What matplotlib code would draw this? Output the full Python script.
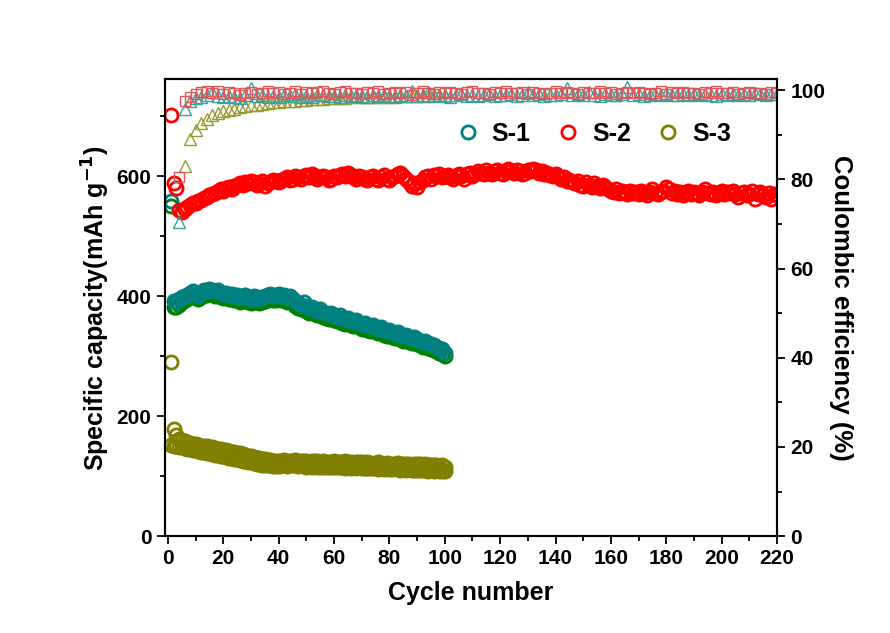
import numpy as np
import matplotlib
matplotlib.use('Agg')
import matplotlib.pyplot as plt
from matplotlib.lines import Line2D
from matplotlib.ticker import MultipleLocator

plt.rcParams['font.family'] = ['Liberation Sans', 'DejaVu Sans']
plt.rcParams['font.weight'] = 'bold'

# Specific capacity (mAh/g), one value per cycle
s1_cap = [558, 392, 390, 395, 398, 400, 402, 405, 408, 404,
          400, 406, 410, 408, 412, 410, 408, 410, 406, 404,
          405, 402, 404, 400, 402, 398, 400, 402, 398, 396,
          400, 398, 396, 398, 400, 402, 404, 400, 402, 404,
          400, 402, 398, 400, 396, 392, 388, 386, 390, 384,
          380, 382, 378, 376, 378, 374, 372, 370, 372, 368,
          366, 368, 364, 362, 364, 360, 358, 360, 356, 354,
          356, 352, 350, 352, 348, 346, 348, 344, 342, 344,
          340, 338, 340, 336, 334, 336, 332, 330, 332, 328,
          326, 324, 326, 322, 320, 318, 316, 314, 312, 306]
s1_chg = [550, 382, 382, 386, 390, 393, 395, 398, 400, 398,
          395, 399, 402, 402, 404, 403, 401, 402, 399, 397,
          398, 395, 396, 393, 394, 391, 392, 394, 391, 389,
          392, 390, 389, 391, 392, 394, 396, 393, 394, 396,
          393, 394, 390, 392, 388, 384, 380, 378, 381, 376,
          372, 374, 370, 368, 370, 366, 364, 362, 364, 360,
          358, 360, 356, 354, 356, 352, 350, 352, 348, 346,
          348, 344, 342, 344, 340, 338, 340, 336, 334, 336,
          332, 330, 332, 328, 326, 328, 324, 322, 324, 320,
          318, 316, 318, 314, 312, 310, 308, 306, 304, 300]
s2_cap = [703, 588, 580, 543, 540, 545, 548, 552, 555, 556,
          558, 560, 563, 565, 568, 570, 572, 575, 578, 576,
          580, 582, 578, 584, 586, 588, 585, 590, 588, 592,
          590, 586, 588, 592, 584, 588, 590, 594, 592, 590,
          594, 596, 598, 594, 596, 600, 598, 596, 600, 602,
          598, 604, 600, 596, 598, 600, 598, 594, 596, 600,
          598, 602, 604, 600, 606, 602, 598, 596, 600, 598,
          596, 594, 598, 600, 596, 594, 598, 602, 596, 594,
          598, 600, 604, 606, 600, 596, 590, 584, 588, 582,
          590, 594, 598, 600, 596, 602, 600, 604, 598, 600,
          602, 598, 596, 600, 604, 600, 596, 604, 606, 600,
          604, 608, 606, 604, 610, 606, 604, 608, 610, 606,
          604, 608, 612, 608, 606, 610, 608, 604, 606, 610,
          608, 612, 610, 606, 608, 604, 606, 602, 600, 604,
          600, 596, 598, 592, 594, 590, 588, 592, 586, 584,
          590, 586, 582, 588, 584, 580, 586, 582, 578, 576,
          574, 578, 572, 576, 574, 570, 576, 572, 574, 570,
          576, 572, 568, 574, 578, 572, 570, 574, 576, 582,
          578, 572, 576, 570, 574, 568, 572, 576, 570, 574,
          572, 568, 574, 578, 572, 570, 574, 568, 572, 576,
          570, 574, 572, 576, 570, 566, 572, 574, 568, 570,
          576, 562, 570, 574, 568, 566, 572, 562, 570, 568]
s3_cap = [290, 178, 168, 162, 160, 158, 156, 155, 154, 153,
          152, 151, 150, 150, 149, 148, 147, 146, 145, 144,
          143, 142, 141, 140, 139, 138, 137, 136, 134, 133,
          132, 131, 130, 129, 128, 127, 127, 126, 126, 125,
          126, 127, 126, 125, 126, 127, 126, 125, 126, 125,
          124, 125, 126, 125, 124, 125, 124, 123, 124, 125,
          124, 123, 124, 125, 124, 123, 122, 123, 124, 123,
          122, 123, 122, 121, 122, 123, 122, 121, 122, 121,
          120, 121, 122, 121, 120, 121, 120, 119, 120, 121,
          120, 119, 120, 119, 118, 119, 118, 117, 118, 115]
s3_chg = [152, 150, 150, 149, 148, 147, 146, 145, 144, 143,
          142, 141, 140, 139, 138, 137, 136, 135, 134, 133,
          132, 131, 130, 129, 128, 127, 126, 125, 124, 123,
          122, 121, 120, 119, 119, 118, 118, 117, 117, 117,
          118, 118, 117, 118, 119, 118, 117, 118, 117, 116,
          117, 116, 117, 116, 115, 116, 115, 116, 115, 116,
          115, 116, 115, 114, 115, 114, 115, 114, 115, 114,
          113, 114, 113, 114, 113, 112, 113, 112, 113, 112,
          112, 113, 112, 111, 112, 111, 112, 111, 110, 111,
          110, 111, 110, 109, 110, 109, 110, 109, 108, 108]

# Coulombic efficiency (%), every second cycle
s1_ce = [70.4, 95.8, 97.6, 98.2, 98.5, 98.9, 99.6, 98.7, 98.4, 98.8,
         98.6, 98.3, 98.9, 100.6, 98.7, 99.0, 98.6, 98.8, 98.4, 98.9,
         98.7, 99.1, 98.6, 98.8, 98.5, 98.9, 99.0, 98.7, 98.8, 98.6,
         98.9, 98.7, 99.0, 98.8, 98.6, 98.9, 98.7, 99.0, 98.8, 98.5,
         98.9, 98.7, 99.8, 98.8, 98.9, 99.6, 98.7, 99.0, 98.8, 98.6,
         98.9, 99.1, 98.8, 99.0, 98.7, 98.9, 99.2, 98.8, 99.0, 98.9,
         99.1, 98.8, 99.0, 99.7, 98.9, 99.1, 98.8, 99.0, 98.9, 99.2,
         100.5, 99.0, 99.1, 98.9, 99.6, 99.0, 98.8, 99.1, 98.9, 99.0,
         99.2, 100.8, 99.0, 99.1, 98.8, 99.0, 99.2, 98.9, 99.1, 99.0,
         98.9, 99.1, 99.0, 99.2, 98.9, 99.1, 99.0, 98.8, 99.1, 99.0,
         99.2, 98.9, 99.1, 99.0, 99.3, 99.1, 99.0, 99.2, 99.1]
s2_ce = [80.5, 97.5, 98.6, 99.2, 99.6, 99.9, 99.5, 99.8, 99.2, 99.6,
         99.4, 99.0, 99.5, 99.7, 99.2, 99.4, 99.8, 99.3, 99.6, 99.1,
         99.5, 99.8, 99.2, 99.6, 99.3, 99.7, 99.9, 99.4, 99.2, 99.6,
         99.8, 99.3, 99.5, 99.1, 99.6, 99.4, 99.8, 99.2, 99.5, 99.7,
         99.3, 99.6, 99.0, 99.4, 99.8, 99.5, 99.2, 99.6, 99.3, 99.7,
         99.4, 99.1, 99.6, 99.9, 99.3, 99.5, 99.2, 99.6, 99.4, 99.8,
         99.5, 99.3, 99.7, 99.2, 99.6, 99.4, 99.1, 99.5, 99.8, 99.3,
         99.6, 99.4, 99.2, 99.7, 99.5, 99.3, 99.8, 99.4, 99.6, 99.2,
         99.5, 99.7, 99.3, 99.6, 99.4, 99.1, 99.5, 99.8, 99.2, 99.6,
         99.4, 99.7, 99.3, 99.5, 99.2, 99.6, 99.4, 99.8, 99.3, 99.5,
         99.6, 99.2, 99.4, 99.7, 99.3, 99.5, 99.1, 99.6, 99.4]
s3_ce = [83.0, 89.0, 91.0, 92.6, 93.5, 94.4, 95.0, 95.3, 95.6, 95.9,
         96.2, 96.4, 96.6, 96.8, 97.0, 97.1, 97.3, 97.4, 97.5, 97.6,
         97.7, 97.8, 97.9, 98.0, 98.0, 98.1, 98.2, 98.2, 98.3, 98.3,
         98.4, 98.4, 98.5, 98.5, 98.5, 98.6, 98.6, 98.6, 98.7, 98.7,
         98.7, 98.8, 98.8, 98.8, 98.8, 98.9, 98.9, 98.9]

cyc100 = np.arange(1, 101)
cyc220 = np.arange(1, 221)
ce_cyc = np.arange(4, 221, 2)
s3_ce_cyc = np.arange(6, 101, 2)

teal = '#008080'
green = '#008000'
red = '#FF0000'
olive = '#808000'

fig = plt.figure(figsize=(8.9, 6.33), dpi=100)
ax = fig.add_axes([0.185, 0.153, 0.688, 0.722])

circ = dict(ls='none', marker='o', mfc='none', ms=9.5, mew=2)
ax.plot(cyc100, s3_chg, mec=olive, **circ)
ax.plot(cyc100, s3_cap, mec=olive, **circ)
ax.plot(cyc100, s1_chg, mec=green, **circ)
ax.plot(cyc100, s1_cap, mec=teal, **circ)
ax.plot(cyc220, s2_cap, mec=red, **circ)

ax.set_xlim(-1.2, 220)
ax.set_ylim(0, 762)
ax.xaxis.set_major_locator(MultipleLocator(20))
ax.xaxis.set_minor_locator(MultipleLocator(10))
ax.yaxis.set_major_locator(MultipleLocator(200))
ax.yaxis.set_minor_locator(MultipleLocator(100))
ax.set_xlabel('Cycle number', fontsize=18, fontweight='bold', labelpad=9)
ax.set_ylabel('Specific capacity(mAh g$^{\\mathbf{-1}}$)', fontsize=18, fontweight='bold', labelpad=3)

ax2 = ax.twinx()
ax2.plot(s3_ce_cyc, s3_ce, ls='none', marker='^', mfc='none', mec='#9A9A30', ms=8, mew=1)
ax2.plot(ce_cyc, s1_ce, ls='none', marker='^', mfc='none', mec='#3AA0A0', ms=8, mew=1)
ax2.plot(ce_cyc, s2_ce, ls='none', marker='s', mfc='none', mec='#E05555', ms=7, mew=1)
ax2.set_ylim(0, 102.5)
ax2.yaxis.set_major_locator(MultipleLocator(20))
ax2.yaxis.set_minor_locator(MultipleLocator(10))
ax2.set_ylabel('Coulombic efficiency (%)', fontsize=18.5, fontweight='bold', rotation=270, labelpad=20)

for a in (ax, ax2):
    a.tick_params(which='major', direction='out', length=6, width=1.3, labelsize=15)
    a.tick_params(which='minor', direction='out', length=3.5, width=1.3)
    for s in a.spines.values():
        s.set_linewidth(1.5)
    for lab in a.get_xticklabels() + a.get_yticklabels():
        lab.set_fontweight('bold')

handles = [Line2D([], [], mec=c, **circ) for c in (teal, red, olive)]
leg = ax2.legend(handles, ['S-1', 'S-2', 'S-3'], ncol=3, frameon=False,
                 loc='center', bbox_to_anchor=(0.7, 0.88), fontsize=18,
                 columnspacing=1.0, handletextpad=0.45, handlelength=1.0)
for t in leg.get_texts():
    t.set_fontweight('bold')

fig.savefig('out.png', dpi=100)
